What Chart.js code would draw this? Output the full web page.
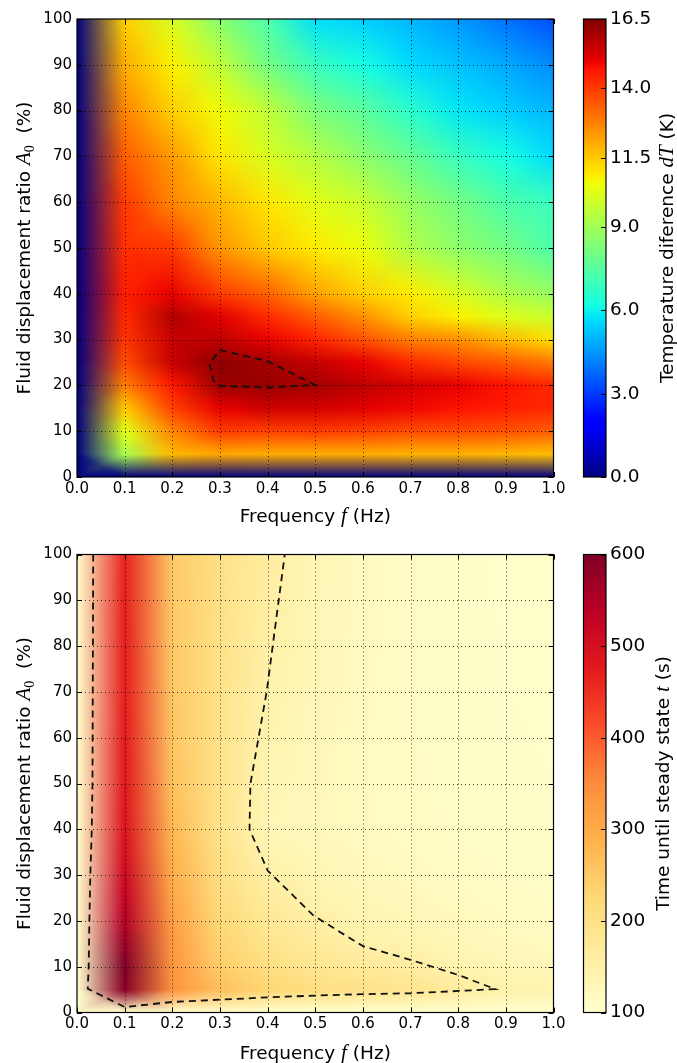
<!DOCTYPE html>
<html>
<head>
<meta charset="utf-8">
<title>Temperature difference and time until steady state</title>
<script src="https://cdn.jsdelivr.net/npm/chart.js@4.4.1/dist/chart.umd.min.js"></script>
<style>
  html, body { margin: 0; padding: 0; background: #fff; }
  #page { position: relative; width: 677px; height: 1063px; overflow: hidden; }
  #page canvas { position: absolute; }
</style>
</head>
<body>
<div id="page">
  <canvas id="dtMap" width="570" height="530" style="left:0;top:0"></canvas>
  <canvas id="dtBar" width="107" height="530" style="left:570px;top:0"></canvas>
  <canvas id="timeMap" width="570" height="533" style="left:0;top:530px"></canvas>
  <canvas id="timeBar" width="107" height="533" style="left:570px;top:530px"></canvas>
</div>
<script>
// ===== DATA =====
// grid of measured points: frequency f (Hz) x displacement ratio A0 (%)
const freqs = [0, 0.1, 0.2, 0.3, 0.4, 0.5, 0.6, 0.7, 0.8, 0.9, 1.0];
const amps = [0, 5, 10, 15, 20, 25, 30, 35, 40, 50, 60, 70, 80, 90, 100];

// temperature difference dT (K), one row per entry of amps
const dTGrid = [
  [0, 0, 0, 0, 0, 0, 0, 0, 0, 0, 0],                                  // 0
  [0, 9.2, 11.8, 12.1, 12.0, 12.0, 12.0, 11.9, 11.9, 11.8, 11.7],     // 5
  [0, 10.3, 12.7, 14.0, 13.9, 14.0, 13.9, 13.7, 13.7, 13.6, 13.4],    // 10
  [0, 11.5, 13.9, 15.0, 15.4, 15.3, 15.1, 14.9, 14.7, 14.5, 14.3],    // 15
  [0, 12.8, 14.6, 16.1, 16.1, 16.0, 15.6, 15.3, 15.0, 14.7, 14.3],    // 20
  [0, 13.7, 15.5, 16.3, 16.0, 15.5, 15.0, 14.3, 13.8, 13.4, 12.9],    // 25
  [0, 14.1, 15.5, 15.6, 15.0, 14.4, 13.6, 12.8, 12.5, 11.8, 11.1],    // 30
  [0, 14.3, 15.8, 15.1, 14.3, 13.4, 12.5, 11.4, 10.8, 10.2, 9.8],     // 35
  [0, 14.5, 15.0, 14.0, 13.3, 12.2, 11.4, 10.9, 10.1, 9.3, 8.8],      // 40
  [0, 14.2, 14.0, 12.4, 11.5, 10.9, 10.5, 9.3, 8.6, 8.1, 7.3],        // 50
  [0, 14.0, 12.7, 11.8, 11.0, 10.3, 9.8, 8.8, 8.1, 7.3, 6.9],         // 60
  [0, 13.4, 12.3, 11.0, 10.1, 9.4, 8.6, 7.8, 6.9, 6.2, 5.6],          // 70
  [0, 12.7, 11.4, 10.6, 9.6, 8.3, 7.6, 6.6, 5.8, 5.4, 5.0],           // 80
  [0, 12.0, 10.8, 9.6, 8.1, 6.9, 6.2, 5.6, 5.2, 4.8, 4.3],            // 90
  [0, 11.4, 10.1, 8.5, 7.3, 5.7, 5.4, 5.0, 4.5, 3.9, 3.3]             // 100
];

// time until steady state t (s), one row per entry of amps
const timeGrid = [
  [0, 0, 0, 0, 0, 0, 0, 0, 0, 0, 0],                                  // 0
  [0, 590, 340, 265, 228, 208, 197, 187, 163, 147, 140],              // 5
  [0, 600, 335, 245, 205, 185, 172, 160, 141, 132, 126],              // 10
  [0, 575, 330, 232, 190, 170, 150, 142, 130, 123, 118],              // 15
  [0, 545, 320, 222, 178, 155, 138, 130, 122, 116, 112],              // 20
  [0, 530, 305, 212, 165, 143, 130, 123, 117, 112, 109],              // 25
  [0, 515, 295, 205, 152, 135, 124, 118, 113, 109, 106],              // 30
  [0, 500, 285, 198, 140, 128, 120, 115, 110, 107, 104],              // 35
  [0, 490, 275, 192, 130, 122, 117, 113, 108, 105, 103],              // 40
  [0, 480, 262, 192, 135, 124, 116, 111, 106, 104, 102],              // 50
  [0, 475, 255, 194, 141, 126, 116, 110, 105, 103, 101],              // 60
  [0, 470, 252, 196, 147, 128, 117, 110, 105, 102, 100],              // 70
  [0, 470, 250, 198, 152, 130, 118, 110, 105, 102, 100],              // 80
  [0, 468, 250, 200, 157, 131, 118, 110, 104, 101, 100],              // 90
  [0, 465, 248, 202, 162, 132, 118, 110, 104, 101, 100]               // 100
];

// dashed contour lines
const dTContourF = [0.300, 0.402, 0.500, 0.400, 0.300, 0.286, 0.278, 0.300];
const dTContourA = [27.7, 25.2, 20.1, 19.5, 19.9, 21.2, 24.8, 27.7];
const timeContourF = [0.034, 0.0325, 0.031, 0.028, 0.026, 0.0245, 0.0225, 0.100, 0.200, 0.300,
  0.400, 0.500, 0.600, 0.700, 0.800, 0.878, 0.800, 0.700, 0.600, 0.550, 0.496, 0.400, 0.362,
  0.364, 0.398, 0.436];
const timeContourA = [100, 50, 40, 30, 20, 10, 5.2, 1.2, 2.3, 2.8, 3.3, 3.7, 4.0, 4.2, 4.7, 5.1,
  8.2, 11.5, 14.5, 17.7, 21.2, 31.0, 40.0, 50.0, 70.0, 100];

// tick labels
const freqTicks = [0, 0.1, 0.2, 0.3, 0.4, 0.5, 0.6, 0.7, 0.8, 0.9, 1.0];
const ampTicks = [0, 10, 20, 30, 40, 50, 60, 70, 80, 90, 100];
const dTTicks = [0, 3, 6, 9, 11.5, 14, 16.5];
const timeTicks = [100, 200, 300, 400, 500, 600];

// ===== COLORMAPS =====
const JET = {
  r: [[0, 0], [0.35, 0], [0.66, 1], [0.89, 1], [1, 0.5]],
  g: [[0, 0], [0.125, 0], [0.375, 1], [0.64, 1], [0.91, 0], [1, 0]],
  b: [[0, 0.5], [0.11, 1], [0.34, 1], [0.65, 0], [1, 0]]
};
const YLORRD = ['#ffffcc', '#ffeda0', '#fed976', '#feb24c', '#fd8d3c',
  '#fc4e2a', '#e31a1c', '#bd0026', '#800026'].map(h => [
  parseInt(h.slice(1, 3), 16), parseInt(h.slice(3, 5), 16), parseInt(h.slice(5, 7), 16)]);

function piecewise(pts, t) {
  for (let k = 1; k < pts.length; k++) {
    if (t <= pts[k][0]) {
      const [x0, y0] = pts[k - 1];
      const [x1, y1] = pts[k];
      return y0 + (y1 - y0) * (t - x0) / (x1 - x0);
    }
  }
  return pts[pts.length - 1][1];
}
function jetColor(t) {
  return [piecewise(JET.r, t) * 255, piecewise(JET.g, t) * 255, piecewise(JET.b, t) * 255];
}
function ylOrRdColor(t) {
  const s = t * (YLORRD.length - 1);
  const k = Math.min(Math.floor(s), YLORRD.length - 2);
  const fr = s - k;
  return YLORRD[k].map((c, n) => c + (YLORRD[k + 1][n] - c) * fr);
}
function makeColormap(fn, vmin, vmax) {
  return v => fn(Math.min(1, Math.max(0, (v - vmin) / (vmax - vmin))));
}
const dTColormap = makeColormap(jetColor, 0, 16.5);
const timeColormap = makeColormap(ylOrRdColor, 100, 600);

// ===== FONTS =====
const SANS = "'DejaVu Sans', sans-serif";
const labelFont = '18.5px ' + SANS;
const mathFont = 'italic 21px "Liberation Serif", serif';
const subFont = '14px "Liberation Serif", serif';

// ===== PLUGINS =====
const clamp01 = v => Math.min(1, Math.max(0, v));

function cellIndex(edges, value) {
  let k = 0;
  while (k < edges.length - 2 && value > edges[k + 1]) k++;
  return k;
}

/**
 * Gouraud shaded mesh: every cell is split in four triangles around its centre
 */
function makeHeatmap(cols, rows, values, colormap) {
  return {
    id: 'heatmap',
    beforeDatasetsDraw(chart) {
      const { ctx, chartArea: area } = chart;
      const xs = chart.scales.x;
      const ys = chart.scales.y;
      const w = Math.round(area.width);
      const h = Math.round(area.height);
      const colors = values.map(row => row.map(colormap));

      const off = document.createElement('canvas');
      off.width = w;
      off.height = h;
      const octx = off.getContext('2d');
      const img = octx.createImageData(w, h);

      const colCell = [];
      const colU = [];
      for (let px = 0; px < w; px++) {
        const f = xs.getValueForPixel(area.left + (px + 0.5) * area.width / w);
        const i = cellIndex(cols, f);
        colCell.push(i);
        colU.push(clamp01((f - cols[i]) / (cols[i + 1] - cols[i])));
      }

      for (let py = 0; py < h; py++) {
        const a = ys.getValueForPixel(area.top + (py + 0.5) * area.height / h);
        const j = cellIndex(rows, a);
        const v = clamp01((a - rows[j]) / (rows[j + 1] - rows[j]));
        for (let px = 0; px < w; px++) {
          const i = colCell[px];
          const u = colU[px];
          const c00 = colors[j][i], c10 = colors[j][i + 1];
          const c01 = colors[j + 1][i], c11 = colors[j + 1][i + 1];
          let w00 = 0, w10 = 0, w01 = 0, w11 = 0, wc;
          if (v <= u && v <= 1 - u) { wc = 2 * v; w00 = 1 - u - v; w10 = u - v; }
          else if (u >= v && u >= 1 - v) { wc = 2 * (1 - u); w10 = u - v; w11 = u + v - 1; }
          else if (v >= u && v >= 1 - u) { wc = 2 * (1 - v); w11 = u + v - 1; w01 = v - u; }
          else { wc = 2 * u; w00 = 1 - v - u; w01 = v - u; }
          const q = wc / 4;
          const idx = (py * w + px) * 4;
          for (let ch = 0; ch < 3; ch++) {
            img.data[idx + ch] = (w00 + q) * c00[ch] + (w10 + q) * c10[ch] +
              (w01 + q) * c01[ch] + (w11 + q) * c11[ch];
          }
          img.data[idx + 3] = 255;
        }
      }
      octx.putImageData(img, 0, 0);
      ctx.save();
      ctx.drawImage(off, area.left, area.top, area.width, area.height);

      // dotted grid on top of the image
      ctx.strokeStyle = 'rgba(0,0,0,0.75)';
      ctx.lineWidth = 1;
      ctx.setLineDash([1, 3]);
      xs.ticks.forEach(t => {
        if (t.value <= xs.min || t.value >= xs.max) return;
        const px = Math.round(xs.getPixelForValue(t.value)) + 0.5;
        ctx.beginPath();
        ctx.moveTo(px, area.bottom);
        ctx.lineTo(px, area.top);
        ctx.stroke();
      });
      ys.ticks.forEach(t => {
        if (t.value <= ys.min || t.value >= ys.max) return;
        const py = Math.round(ys.getPixelForValue(t.value)) + 0.5;
        ctx.beginPath();
        ctx.moveTo(area.left, py);
        ctx.lineTo(area.right, py);
        ctx.stroke();
      });
      ctx.restore();
    }
  };
}

/**
 * Axes frame with inward tick marks on all four sides
 */
function makeFrame() {
  return {
    id: 'frame',
    afterDraw(chart) {
      const { ctx, chartArea: a } = chart;
      const xs = chart.scales.x;
      const ys = chart.scales.y;
      const len = 5;
      ctx.save();
      ctx.strokeStyle = '#000';
      ctx.lineWidth = 1;
      ctx.beginPath();
      xs.ticks.forEach(t => {
        const px = Math.round(xs.getPixelForValue(t.value)) + 0.5;
        ctx.moveTo(px, a.bottom); ctx.lineTo(px, a.bottom - len);
        ctx.moveTo(px, a.top); ctx.lineTo(px, a.top + len);
      });
      ys.ticks.forEach(t => {
        const py = Math.round(ys.getPixelForValue(t.value)) + 0.5;
        ctx.moveTo(a.left, py); ctx.lineTo(a.left + len, py);
        ctx.moveTo(a.right, py); ctx.lineTo(a.right - len, py);
      });
      ctx.stroke();
      ctx.lineWidth = 1.2;
      ctx.strokeRect(a.left, a.top, a.width, a.height);
      ctx.restore();
    }
  };
}

/**
 * Colour bar filled through the bar's own value scale
 */
function makeColorbar(colormap) {
  return {
    id: 'colorbar',
    beforeDatasetsDraw(chart) {
      const { ctx, chartArea: a } = chart;
      const ys = chart.scales.y;
      ctx.save();
      for (let py = Math.floor(a.top); py < Math.ceil(a.bottom); py++) {
        const c = colormap(ys.getValueForPixel(py + 0.5));
        ctx.fillStyle = `rgb(${Math.round(c[0])},${Math.round(c[1])},${Math.round(c[2])})`;
        ctx.fillRect(a.left, py, a.width, 1);
      }
      ctx.restore();
    },
    afterDraw(chart) {
      const { ctx, chartArea: a } = chart;
      const ys = chart.scales.y;
      ctx.save();
      ctx.strokeStyle = '#000';
      ctx.lineWidth = 1;
      ctx.beginPath();
      ys.ticks.forEach(t => {
        const py = Math.round(ys.getPixelForValue(t.value)) + 0.5;
        ctx.moveTo(a.right, py);
        ctx.lineTo(a.right - 5, py);
      });
      ctx.stroke();
      ctx.lineWidth = 1.2;
      ctx.strokeRect(a.left, a.top, a.width, a.height);
      ctx.restore();
    }
  };
}

/**
 * Axis titles made of several runs (plain text and math italic)
 */
function makeTitles(titles) {
  return {
    id: 'titles',
    afterDraw(chart) {
      const ctx = chart.ctx;
      titles.forEach(t => {
        ctx.save();
        ctx.translate(t.x, t.y);
        ctx.rotate(t.angle || 0);
        ctx.fillStyle = '#000';
        ctx.textAlign = 'left';
        ctx.textBaseline = 'alphabetic';
        let total = 0;
        const widths = t.runs.map(r => {
          ctx.font = r.font;
          const wdt = ctx.measureText(r.text).width;
          total += wdt;
          return wdt;
        });
        let x = -total / 2;
        t.runs.forEach((r, k) => {
          ctx.font = r.font;
          ctx.fillText(r.text, x, r.dy || 0);
          x += widths[k];
        });
        ctx.restore();
      });
    }
  };
}

const freqTitleRuns = [
  { text: 'Frequency ', font: labelFont },
  { text: 'f', font: mathFont },
  { text: ' (Hz)', font: labelFont }
];
const ampTitleRuns = [
  { text: 'Fluid displacement ratio ', font: labelFont },
  { text: 'A', font: mathFont },
  { text: '0', font: subFont, dy: 4 },
  { text: '  (%)', font: labelFont }
];

// ===== CHARTS =====
function buildMap(canvasId, cfg) {
  return new Chart(document.getElementById(canvasId), {
    type: 'scatter',
    data: {
      datasets: [{
        data: cfg.contourF.map((f, k) => ({ x: f, y: cfg.contourA[k] })),
        showLine: true,
        borderColor: '#111',
        borderWidth: 1.8,
        borderDash: [7, 5],
        pointRadius: 0,
        tension: 0,
        fill: false
      }]
    },
    options: {
      responsive: false,
      animation: false,
      events: [],
      layout: { padding: { top: cfg.top, right: 16.5, left: 0, bottom: 0 } },
      plugins: { legend: { display: false }, tooltip: { enabled: false } },
      scales: {
        x: {
          type: 'linear', min: 0, max: 1,
          grid: { display: false, drawTicks: false },
          border: { display: false },
          afterBuildTicks: s => { s.ticks = freqTicks.map(v => ({ value: v })); },
          afterFit: s => { s.height = cfg.xAxisHeight; },
          ticks: {
            autoSkip: false, maxRotation: 0, padding: 3, color: '#000',
            font: { family: SANS, size: 15 },
            callback: v => v.toFixed(1)
          }
        },
        y: {
          type: 'linear', min: 0, max: 100,
          grid: { display: false, drawTicks: false },
          border: { display: false },
          afterBuildTicks: s => { s.ticks = ampTicks.map(v => ({ value: v })); },
          afterFit: s => { s.width = 77; },
          ticks: {
            autoSkip: false, padding: 5, color: '#000',
            font: { family: SANS, size: 15 },
            callback: v => String(v)
          }
        }
      }
    },
    plugins: [
      makeHeatmap(freqs, amps, cfg.values, cfg.colormap),
      makeFrame(),
      makeTitles([
        { runs: freqTitleRuns, x: 315.25, y: cfg.xTitleY },
        { runs: ampTitleRuns, x: 29.5, y: cfg.yTitleY, angle: -Math.PI / 2 }
      ])
    ]
  });
}

function buildBar(canvasId, cfg) {
  return new Chart(document.getElementById(canvasId), {
    type: 'scatter',
    data: { datasets: [] },
    options: {
      responsive: false,
      animation: false,
      events: [],
      layout: { padding: { top: cfg.top, bottom: cfg.bottom, left: 13.5, right: 0 } },
      plugins: { legend: { display: false }, tooltip: { enabled: false } },
      scales: {
        x: { type: 'linear', display: false, min: 0, max: 1 },
        y: {
          type: 'linear', position: 'right', min: cfg.min, max: cfg.max,
          grid: { display: false, drawTicks: false },
          border: { display: false },
          afterBuildTicks: s => { s.ticks = cfg.ticks.map(v => ({ value: v })); },
          afterFit: s => { s.width = 71; },
          ticks: {
            autoSkip: false, padding: 4, color: '#000',
            font: { family: SANS, size: 18.5 },
            callback: cfg.format
          }
        }
      }
    },
    plugins: [
      makeColorbar(cfg.colormap),
      makeTitles([{ runs: cfg.titleRuns, x: cfg.titleX, y: cfg.titleY, angle: -Math.PI / 2 }])
    ]
  });
}

buildMap('dtMap', {
  values: dTGrid, colormap: dTColormap,
  contourF: dTContourF, contourA: dTContourA,
  top: 19, xAxisHeight: 53, xTitleY: 521.5, yTitleY: 248
});
buildBar('dtBar', {
  min: 0, max: 16.5, ticks: dTTicks, colormap: dTColormap,
  format: v => v.toFixed(1), top: 19, bottom: 53,
  titleX: 103, titleY: 248,
  titleRuns: [
    { text: 'Temperature diference ', font: labelFont },
    { text: 'dT', font: mathFont },
    { text: ' (K)', font: labelFont }
  ]
});
buildMap('timeMap', {
  values: timeGrid, colormap: timeColormap,
  contourF: timeContourF, contourA: timeContourA,
  top: 24.5, xAxisHeight: 50.5, xTitleY: 528.5, yTitleY: 253.5
});
buildBar('timeBar', {
  min: 100, max: 600, ticks: timeTicks, colormap: timeColormap,
  format: v => String(v), top: 24.5, bottom: 50.5,
  titleX: 98.5, titleY: 253.5,
  titleRuns: [
    { text: 'Time until steady state ', font: labelFont },
    { text: 't', font: mathFont },
    { text: ' (s)', font: labelFont }
  ]
});
</script>
</body>
</html>
